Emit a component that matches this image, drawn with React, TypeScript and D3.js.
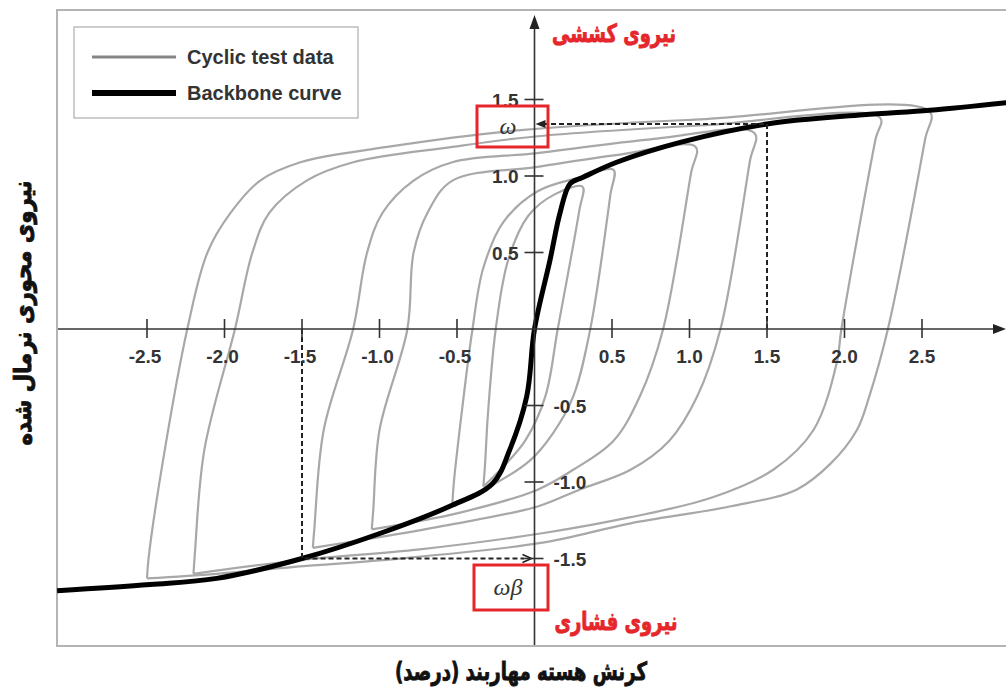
import * as d3 from "d3";
import { useEffect, useRef } from "react";

// tick values
const xTicks = [-2.5, -2.0, -1.5, -1.0, -0.5, 0.5, 1.0, 1.5, 2.0, 2.5];
const yTicks = [-1.5, -1.0, -0.5, 0.5, 1.0, 1.5];

// cyclic test loops [strain %, normalised force]
const loop1 = [[-0.33, -1.03], [-0.32, -0.9], [-0.3, -0.55], [-0.25, 0.0], [-0.17, 0.45], [-0.04, 0.74], [0.13, 0.88], [0.31, 0.93],
  [0.29, 0.78], [0.15, 0.0], [0.07, -0.44], [-0.06, -0.73], [-0.22, -0.92], [-0.33, -1.03]];
const loop2 = [[-0.53, -1.14], [-0.52, -1.0], [-0.47, -0.55], [-0.4, 0.0], [-0.33, 0.4], [-0.2, 0.7], [0.02, 0.9], [0.29, 0.99], [0.51, 1.04],
  [0.49, 0.88], [0.36, 0.0], [0.25, -0.44], [0.12, -0.68], [-0.03, -0.86], [-0.29, -1.03], [-0.53, -1.14]];
const loop3 = [[-1.05, -1.31], [-1.04, -1.18], [-1.0, -0.66], [-0.82, 0.0], [-0.78, 0.5], [-0.69, 0.76], [-0.53, 0.97], [0.02, 1.06], [0.55, 1.14], [1.04, 1.19],
  [1.01, 1.02], [0.83, 0.0], [0.68, -0.44], [0.51, -0.73], [0.25, -0.92], [0.02, -1.05], [-0.48, -1.2], [-1.05, -1.31]];
const loop4 = [[-1.43, -1.43], [-1.42, -1.3], [-1.36, -0.66], [-1.17, 0.0], [-1.08, 0.5], [-0.98, 0.76], [-0.78, 0.97], [-0.53, 1.09], [0.02, 1.15], [0.75, 1.24], [1.42, 1.28],
  [1.39, 1.1], [1.2, 0.0], [1.05, -0.44], [0.87, -0.73], [0.62, -0.92], [0.29, -1.05], [0.02, -1.16], [-0.55, -1.28], [-1.0, -1.36], [-1.43, -1.43]];
const loop5 = [[-2.2, -1.6], [-2.19, -1.45], [-2.13, -0.79], [-1.93, 0.01], [-1.82, 0.5], [-1.71, 0.76], [-1.47, 0.97], [-1.17, 1.09], [-0.53, 1.19], [0.02, 1.26], [1.07, 1.33], [2.23, 1.38],
  [2.2, 1.24], [1.98, 0.0], [1.95, -0.22], [1.8, -0.66], [1.54, -0.92], [1.15, -1.1], [0.62, -1.23], [0.08, -1.33], [-0.74, -1.44], [-1.51, -1.51], [-2.2, -1.6]];
const loop6 = [[-2.5, -1.63], [-2.49, -1.5], [-2.4, -0.88], [-2.24, 0.0], [-2.11, 0.5], [-1.96, 0.76], [-1.77, 0.97], [-1.51, 1.09], [-0.95, 1.19], [-0.09, 1.3], [1.07, 1.37], [2.55, 1.42],
  [2.52, 1.24], [2.28, 0.0], [2.16, -0.44], [2.08, -0.66], [1.91, -0.88], [1.69, -1.05], [1.26, -1.16], [0.62, -1.27], [0.03, -1.4], [-0.98, -1.51], [-1.49, -1.55], [-2.05, -1.6], [-2.5, -1.63]];

const backbone = [[-3.08, -1.71], [-2.48, -1.67], [-2.05, -1.63], [-1.5, -1.5], [-0.98, -1.33], [-0.55, -1.16], [-0.27, -1.01], [-0.16, -0.79], [-0.05, -0.44], [0, 0],
  [0.1, 0.45], [0.165, 0.76], [0.23, 0.95], [0.31, 0.99], [0.53, 1.09], [0.94, 1.22], [1.5, 1.34], [2.12, 1.4], [2.55, 1.43], [3.05, 1.48]];

const refStrain = 1.5;
const omega = 1.34;
const omegaBeta = 1.5;

const latin = "'Liberation Sans', Arial, sans-serif";
const persian = "'DejaVu Sans', 'Noto Sans', sans-serif";
const red = "#e5262b";

function HysteresisChart() {
  const ref = useRef<SVGSVGElement | null>(null);

  useEffect(() => {
    const svg = d3.select(ref.current);
    svg.selectAll("*").remove();

    const x = d3.scaleLinear().domain([-2.5, 2.5]).range([147, 922]);
    const y = d3.scaleLinear().domain([-1.5, 1.5]).range([558.5, 99.5]);
    const x0 = x(0);
    const y0 = y(0);

    // outer frame
    svg.append("rect").attr("x", 57).attr("y", 10).attr("width", 1000).attr("height", 636)
      .attr("fill", "none").attr("stroke", "#b4b4b4").attr("stroke-width", 2);

    const line = d3.line<number[]>()
      .x((d) => x(d[0]))
      .y((d) => y(d[1]))
      .curve(d3.curveCatmullRom.alpha(0.5));

    // cyclic loops
    svg.append("g")
      .selectAll("path")
      .data([loop1, loop2, loop3, loop4, loop5, loop6])
      .join("path")
      .attr("d", (d) => line(d))
      .attr("fill", "none")
      .attr("stroke", "#a8a8a8")
      .attr("stroke-width", 2.2);

    // backbone
    svg.append("path").attr("d", line(backbone)).attr("fill", "none")
      .attr("stroke", "#000").attr("stroke-width", 5).attr("stroke-linejoin", "round");

    // dashed guides
    const dashed = svg.append("g").attr("fill", "none").attr("stroke", "#222")
      .attr("stroke-width", 2).attr("stroke-dasharray", "5,3");
    dashed.append("path").attr("d", `M${x(refStrain)},${y0}V${y(omega)}H${x0 + 10}`);
    dashed.append("path").attr("d", `M${x(-refStrain)},${y0}V${y(-omegaBeta)}H${x0 - 10}`);
    svg.append("path")
      .attr("d", `M${x0 + 1},${y(omega)}l10,-4v8z`).attr("fill", "#222");
    svg.append("path")
      .attr("d", `M${x0 - 3},${y(-omegaBeta)}l-9,-4M${x0 - 3},${y(-omegaBeta)}l-9,4`)
      .attr("stroke", "#222").attr("stroke-width", 1.5).attr("fill", "none");

    // axes
    const axes = svg.append("g").attr("stroke", "#333").attr("stroke-width", 1.6);
    axes.append("line").attr("x1", 58).attr("x2", 996).attr("y1", y0).attr("y2", y0);
    axes.append("line").attr("x1", x0).attr("x2", x0).attr("y1", 645).attr("y2", 26);
    axes.selectAll(".xt").data(xTicks).join("line").attr("class", "xt")
      .attr("x1", (d) => x(d)).attr("x2", (d) => x(d)).attr("y1", y0 - 10).attr("y2", y0 + 9);
    axes.selectAll(".yt").data(yTicks).join("line").attr("class", "yt")
      .attr("y1", (d) => y(d)).attr("y2", (d) => y(d)).attr("x1", x0 - 10).attr("x2", x0 + 9);
    svg.append("path").attr("d", `M1006,${y0}l-13,-5v10z`).attr("fill", "#222");
    svg.append("path").attr("d", `M${x0},15l-5,14h10z`).attr("fill", "#222");

    const fmt = (d: number) => d.toFixed(1);
    svg.append("g").selectAll("text").data(xTicks).join("text")
      .attr("x", (d) => x(d) - (d < 0 ? 2 : 0)).attr("y", y0 + 34)
      .attr("text-anchor", "middle").attr("font-family", latin).attr("font-weight", "bold")
      .attr("font-size", 19).attr("fill", "#333").text((d) => fmt(d));
    svg.append("g").selectAll("text").data(yTicks).join("text")
      .attr("x", (d) => (d > 0 ? x0 - 16 : x0 + 19)).attr("y", (d) => y(d) + 7)
      .attr("text-anchor", (d) => (d > 0 ? "end" : "start")).attr("font-family", latin)
      .attr("font-weight", "bold").attr("font-size", 19).attr("fill", "#333").text((d) => fmt(d));

    // red boxes with omega labels
    svg.append("rect").attr("x", 477).attr("y", 106).attr("width", 71).attr("height", 41)
      .attr("fill", "none").attr("stroke", red).attr("stroke-width", 3);
    svg.append("rect").attr("x", 474).attr("y", 565).attr("width", 74).attr("height", 45)
      .attr("fill", "none").attr("stroke", red).attr("stroke-width", 3);
    svg.append("text").attr("x", 508).attr("y", 134).attr("text-anchor", "middle")
      .attr("font-family", "'Liberation Serif', serif").attr("font-style", "italic")
      .attr("font-size", 24).attr("fill", "#333").text("ω");
    svg.append("text").attr("x", 508).attr("y", 595).attr("text-anchor", "middle")
      .attr("font-family", "'Liberation Serif', serif").attr("font-style", "italic")
      .attr("font-size", 24).attr("fill", "#333").text("ωβ");

    // red force labels (heavy Persian type, thickened with a stroke)
    svg.append("text").attr("x", 614).attr("y", 42).attr("text-anchor", "middle").attr("direction", "rtl")
      .attr("font-family", persian).attr("font-weight", "bold").attr("font-size", 25)
      .attr("textLength", 124).attr("lengthAdjust", "spacingAndGlyphs")
      .attr("fill", red).attr("stroke", red).attr("stroke-width", 0.9).text("نیروی کششی");
    svg.append("text").attr("x", 616).attr("y", 630).attr("text-anchor", "middle").attr("direction", "rtl")
      .attr("font-family", persian).attr("font-weight", "bold").attr("font-size", 25)
      .attr("textLength", 123).attr("lengthAdjust", "spacingAndGlyphs")
      .attr("fill", red).attr("stroke", red).attr("stroke-width", 0.9).text("نیروی فشاری");

    // axis titles
    svg.append("text").attr("x", 521).attr("y", 680).attr("text-anchor", "middle").attr("direction", "rtl")
      .attr("font-family", persian).attr("font-weight", "bold").attr("font-size", 25)
      .attr("textLength", 252).attr("lengthAdjust", "spacingAndGlyphs")
      .attr("fill", "#111").attr("stroke", "#111").attr("stroke-width", 0.9).text("کرنش هسته مهاربند (درصد)");
    svg.append("text").attr("transform", "translate(31,313) rotate(-90)").attr("text-anchor", "middle")
      .attr("direction", "rtl").attr("font-family", persian).attr("font-weight", "bold").attr("font-size", 24)
      .attr("textLength", 265).attr("lengthAdjust", "spacingAndGlyphs")
      .attr("fill", "#111").attr("stroke", "#111").attr("stroke-width", 0.9).text("نیروی محوری نرمال شده");

    // legend
    const lg = svg.append("g");
    lg.append("rect").attr("x", 74).attr("y", 27).attr("width", 284).attr("height", 91)
      .attr("fill", "#fff").attr("stroke", "#bdbdbd").attr("stroke-width", 1.5);
    lg.append("line").attr("x1", 92).attr("x2", 176).attr("y1", 57).attr("y2", 57)
      .attr("stroke", "#858585").attr("stroke-width", 3);
    lg.append("line").attr("x1", 92).attr("x2", 176).attr("y1", 93).attr("y2", 93)
      .attr("stroke", "#000").attr("stroke-width", 6);
    lg.append("text").attr("x", 187).attr("y", 64).attr("font-family", latin).attr("font-weight", "bold")
      .attr("font-size", 20).attr("fill", "#333").text("Cyclic test data");
    lg.append("text").attr("x", 187).attr("y", 100).attr("font-family", latin).attr("font-weight", "bold")
      .attr("font-size", 20).attr("fill", "#333").text("Backbone curve");
  }, []);

  return (
    <svg
      ref={ref}
      width={1006}
      height={688}
      style={{ position: "absolute", left: 0, top: 0, background: "#fff" }}
    ></svg>
  );
}

export default function App() {
  return <HysteresisChart />;
}
